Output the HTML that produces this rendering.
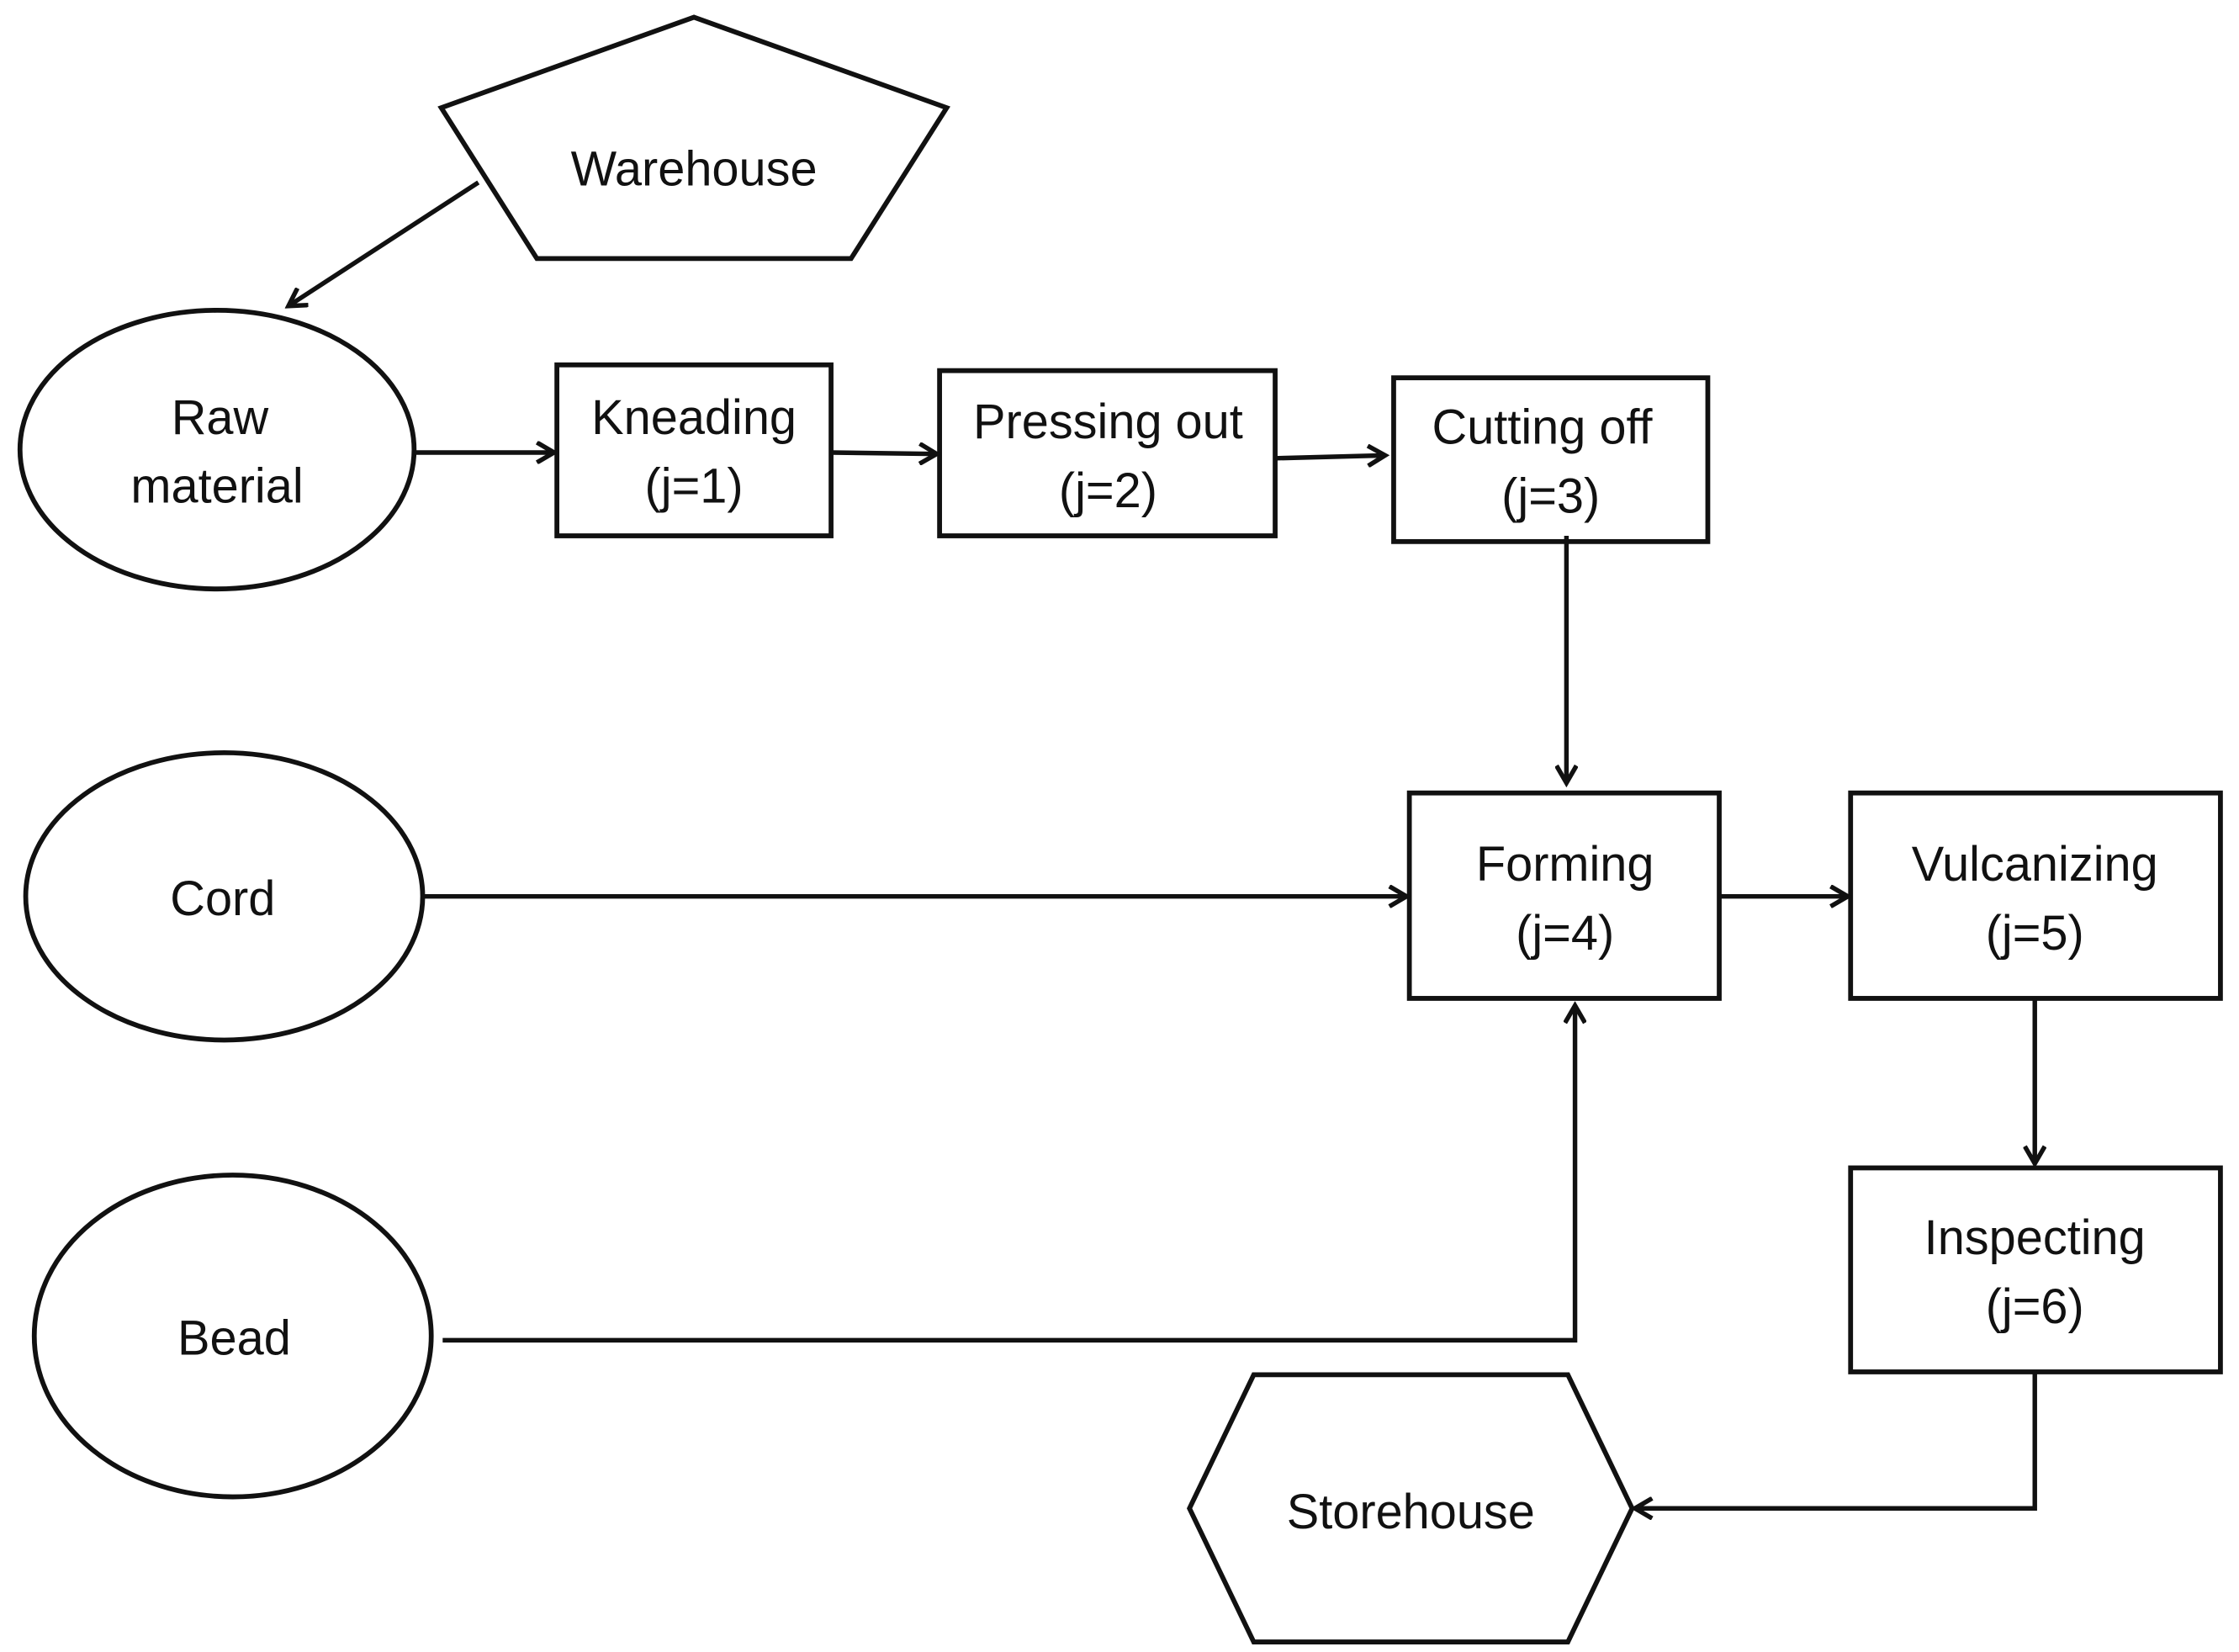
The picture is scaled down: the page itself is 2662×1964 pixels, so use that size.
<!DOCTYPE html>
<html><head><meta charset="utf-8"><style>
html,body{margin:0;padding:0;background:#fff;}
svg{display:block;}
text{font-family:"Liberation Sans",sans-serif;font-size:34px;fill:#111;text-anchor:middle;}
</style></head><body>
<svg width="2662" height="1964" viewBox="0 0 1568 1150" preserveAspectRatio="none" xmlns="http://www.w3.org/2000/svg">
<defs><marker id="a" markerWidth="16" markerHeight="16" refX="13" refY="8" orient="auto" markerUnits="userSpaceOnUse"><path d="M1,1 L13,8 L1,15" fill="none" stroke="#111" stroke-width="3.2"/></marker></defs>
<g fill="#fff" stroke="#111" stroke-width="3.4">
<polygon points="486,12 663,75 596,180 376,180 309,75"/>
<ellipse cx="152" cy="313" rx="138" ry="97"/>
<rect x="390" y="254" width="192" height="119"/>
<rect x="658" y="258" width="235" height="115"/>
<rect x="976" y="263" width="220" height="114"/>
<rect x="987" y="552" width="217" height="143"/>
<ellipse cx="157" cy="624" rx="139" ry="100"/>
<rect x="1296" y="552" width="259" height="143"/>
<rect x="1296" y="813" width="259" height="142"/>
<polygon points="833,1050 878,957 1098,957 1143,1050 1098,1143 878,1143"/>
<ellipse cx="163" cy="930" rx="139" ry="112"/>
</g>
<g fill="none" stroke="#111" stroke-width="3.2" marker-end="url(#a)">
<path d="M335,127 L202,213"/>
<path d="M290,315 L388,315"/>
<path d="M582,315 L656,316"/>
<path d="M893,319 L970,317"/>
<path d="M1097,373 L1097,545"/>
<path d="M297,624 L985,624"/>
<path d="M1204,624 L1294,624"/>
<path d="M1425,695 L1425,810"/>
<path d="M1425,955 L1425,1050 L1145,1050"/>
<path d="M310,933 L1103,933 L1103,700"/>
</g>
<text x="486" y="129">Warehouse</text>
<text x="154" y="302">Raw</text>
<text x="152" y="350">material</text>
<text x="486" y="302">Kneading</text>
<text x="486" y="350">(j=1)</text>
<text x="776" y="305">Pressing out</text>
<text x="776" y="353">(j=2)</text>
<text x="1080" y="309">Cutting off</text>
<text x="1086" y="357">(j=3)</text>
<text x="1096" y="613">Forming</text>
<text x="1096" y="661">(j=4)</text>
<text x="156" y="637">Cord</text>
<text x="1425" y="613">Vulcanizing</text>
<text x="1425" y="661">(j=5)</text>
<text x="1425" y="873">Inspecting</text>
<text x="1425" y="921">(j=6)</text>
<text x="988" y="1064">Storehouse</text>
<text x="164" y="943">Bead</text>
</svg>
</body></html>
